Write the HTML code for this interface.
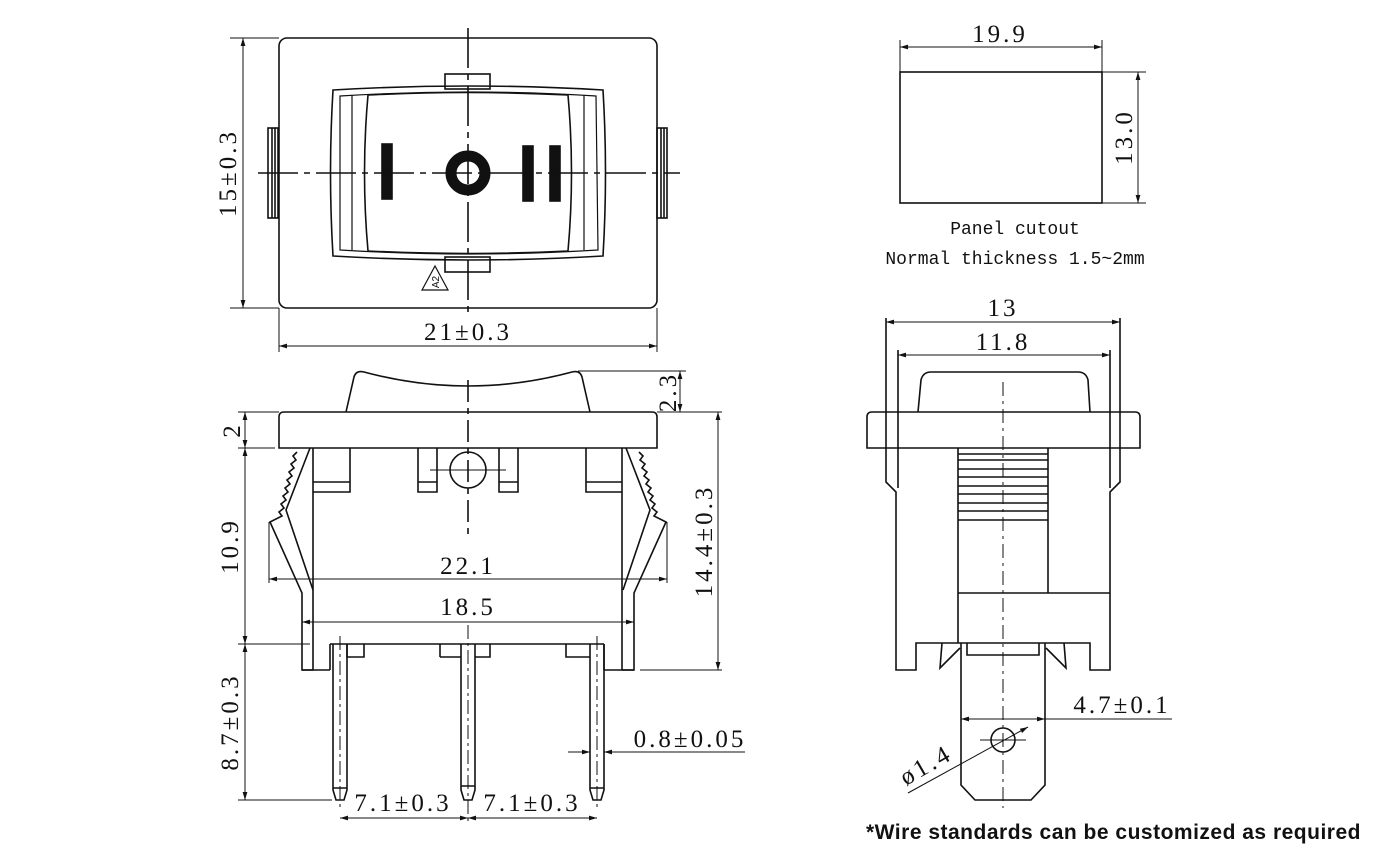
<!DOCTYPE html>
<html><head><meta charset="utf-8"><style>
html,body{margin:0;padding:0;background:#fff;}
svg{display:block}
text{font-family:"Liberation Mono","DejaVu Sans Mono",monospace;fill:#111;}
.d{font-family:"Liberation Serif",serif;font-size:25px;letter-spacing:3px;}
</style></head><body>
<svg width="1390" height="863" viewBox="0 0 1390 863" xmlns="http://www.w3.org/2000/svg">
<defs>
<marker id="a" viewBox="0 0 10 10" refX="10" refY="5" markerWidth="10" markerHeight="8" orient="auto-start-reverse" markerUnits="userSpaceOnUse"><path d="M0,2 L10,5 L0,8" fill="#111"/></marker>
</defs>
<g stroke="#111" stroke-width="1.6" fill="none">
<!-- TOP VIEW -->
<rect x="279" y="38" width="378" height="270" rx="8"/>
<rect x="268" y="128" width="10" height="90"/><line x1="272" y1="128" x2="272" y2="218"/><line x1="275" y1="128" x2="275" y2="218"/>
<rect x="657" y="128" width="10" height="90"/><line x1="661" y1="128" x2="661" y2="218"/><line x1="664" y1="128" x2="664" y2="218"/>
<rect x="445" y="74" width="45" height="15"/>
<rect x="445" y="257" width="45" height="15"/>
<path d="M333,90 Q468,82 603,90 Q608,173 603,256 Q468,264 333,256 Q328,173 333,90Z"/>
<path d="M340,96 Q468,88 596,96 L598,250 Q468,258 340,250Z" stroke-width="1.2"/>
<path d="M352,95 L352,250 M584,95 L584,250" stroke-width="1.2"/>
<path d="M368,95 Q468,90 568,95 Q575,173 568,251 Q468,256 368,251 Q361,173 368,95Z"/>
<rect x="382" y="144" width="10" height="55" fill="#111"/>
<rect x="523" y="146" width="10" height="55" fill="#111"/>
<rect x="550" y="146" width="10" height="55" fill="#111"/>
<circle cx="468" cy="173" r="17" stroke-width="11"/>
<path d="M422,290 L435,266 L448,290Z" stroke-width="1.2"/>
<line x1="468" y1="28" x2="468" y2="318" stroke-dasharray="40,6,6,6"/>
<line x1="258" y1="173" x2="680" y2="173" stroke-dasharray="40,6,6,6"/>
<!-- dims top -->
<line x1="230" y1="38" x2="279" y2="38" stroke-width="1"/>
<line x1="230" y1="308" x2="279" y2="308" stroke-width="1"/>
<line x1="243" y1="38" x2="243" y2="308" stroke-width="1" marker-start="url(#a)" marker-end="url(#a)"/>
<line x1="279" y1="308" x2="279" y2="352" stroke-width="1"/>
<line x1="657" y1="308" x2="657" y2="352" stroke-width="1"/>
<line x1="279" y1="346" x2="657" y2="346" stroke-width="1" marker-start="url(#a)" marker-end="url(#a)"/>
<!-- PANEL CUTOUT -->
<rect x="900" y="72" width="202" height="131"/>
<line x1="900" y1="40" x2="900" y2="72" stroke-width="1"/><line x1="1102" y1="40" x2="1102" y2="72" stroke-width="1"/>
<line x1="900" y1="47" x2="1102" y2="47" stroke-width="1" marker-start="url(#a)" marker-end="url(#a)"/>
<line x1="1102" y1="72" x2="1146" y2="72" stroke-width="1"/><line x1="1102" y1="203" x2="1146" y2="203" stroke-width="1"/>
<line x1="1138" y1="72" x2="1138" y2="203" stroke-width="1" marker-start="url(#a)" marker-end="url(#a)"/>
<!-- SIDE VIEW -->
<path d="M279,448 L279,417 Q279,412 284,412 L652,412 Q657,412 657,417 L657,448 Z"/>
<path d="M346,412 L354,377 Q356,370 364,372 Q468,400 572,372 Q580,370 582,377 L590,412"/>
<line x1="468" y1="380" x2="468" y2="540" stroke-dasharray="22,6,6,6"/>
<path d="M313,448 L313,670 M622,448 L622,670"/>
<path d="M313,492 L350,492 L350,448 M313,482 L350,482"/>
<path d="M586,448 L586,492 L622,492 M586,482 L622,482"/>
<path d="M418,448 L418,492 L437,492 L437,448 M418,482 L437,482"/>
<path d="M499,448 L499,492 L518,492 L518,448 M499,482 L518,482"/>
<circle cx="468" cy="470" r="18"/>
<line x1="430" y1="470" x2="506" y2="470" stroke-width="1"/>
<!-- springs -->
<path d="M297,452 L293,456 L296,460 L291,464 L294,468 L289,472 L292,476 L287,480 L290,484 L285,488 L288,492 L283,496 L286,500 L281,504 L284,508 L279,512 L282,516 L270,522 L302,593 L302,670 L313,670 M310,448 L286,510 L313,590"/>
<path d="M639,452 L643,456 L640,460 L645,464 L642,468 L647,472 L644,476 L649,480 L646,484 L651,488 L648,492 L653,496 L650,500 L655,504 L652,508 L657,512 L654,516 L666,522 L634,593 L634,670 L622,670 M626,448 L650,510 L623,590"/>
<!-- bottom base -->
<path d="M330,644 L604,644 M302,670 L330,670 M604,670 L634,670"/>
<path d="M330,644 L330,670 M604,644 L604,670"/>
<path d="M347,644 L347,657 L364,657 L364,644 M440,657 L461,657 M475,657 L490,657 L490,644 M440,644 L440,657 M566,644 L566,657 L590,657"/>
<!-- pins -->
<path d="M333,644 L333,790 L336,800 L344,800 L347,790 L347,644 M333,788 L347,788"/>
<path d="M461,644 L461,790 L464,800 L472,800 L475,790 L475,644 M461,786 L475,786"/>
<path d="M590,644 L590,790 L593,800 L601,800 L604,790 L604,644 M590,788 L604,788"/>
<g stroke-width="1" stroke-dasharray="14,4,3,4"><line x1="340" y1="636" x2="340" y2="808"/><line x1="468" y1="625" x2="468" y2="822"/><line x1="597" y1="636" x2="597" y2="808"/></g>
<!-- side dims -->
<g stroke-width="1">
<line x1="578" y1="371" x2="686" y2="371"/><line x1="657" y1="412" x2="722" y2="412"/>
<line x1="680" y1="371" x2="680" y2="412" marker-start="url(#a)" marker-end="url(#a)"/>
<line x1="238" y1="412" x2="279" y2="412"/><line x1="238" y1="448" x2="275" y2="448"/>
<line x1="245" y1="412" x2="245" y2="448" marker-start="url(#a)" marker-end="url(#a)"/>
<line x1="245" y1="448" x2="245" y2="644" marker-start="url(#a)" marker-end="url(#a)"/>
<line x1="238" y1="644" x2="310" y2="644"/>
<line x1="245" y1="644" x2="245" y2="800" marker-start="url(#a)" marker-end="url(#a)"/>
<line x1="238" y1="800" x2="332" y2="800"/>
<line x1="718" y1="412" x2="718" y2="670" marker-start="url(#a)" marker-end="url(#a)"/>
<line x1="640" y1="670" x2="722" y2="670"/>
<line x1="269" y1="579" x2="667" y2="579" marker-start="url(#a)" marker-end="url(#a)"/>
<line x1="269" y1="522" x2="269" y2="583"/><line x1="667" y1="522" x2="667" y2="583"/>
<line x1="302" y1="622" x2="634" y2="622" marker-start="url(#a)" marker-end="url(#a)"/>
<line x1="340" y1="818" x2="468" y2="818" marker-start="url(#a)" marker-end="url(#a)"/>
<line x1="468" y1="818" x2="597" y2="818" marker-start="url(#a)" marker-end="url(#a)"/>
<line x1="568" y1="752" x2="590" y2="752" marker-end="url(#a)"/>
<line x1="745" y1="752" x2="604" y2="752" marker-end="url(#a)"/>
</g>
<!-- RIGHT SIDE VIEW -->
<path d="M867,448 L867,417 Q867,412 872,412 L1135,412 Q1140,412 1140,417 L1140,448 Z"/>
<path d="M918,412 L921,380 Q923,372 931,372 L1078,372 Q1086,372 1088,380 L1090,412"/>
<path d="M886,318 L886,482 L896,492 L896,670 L916,670 L916,643 L1090,643 L1090,670 L1110,670 L1110,492 L1120,482 L1120,318" />
<path d="M898,350 L898,488 M1110,350 L1110,488"/>
<path d="M958,448 L958,643 M1048,448 L1048,593 M958,593 L1110,593"/>
<path d="M958,454 L1048,454 M958,460 L1048,460 M958,469 L1048,469 M958,477 L1048,477 M958,486 L1048,486 M958,494 L1048,494 M958,503 L1048,503 M958,511 L1048,511 M958,520 L1048,520"/>
<path d="M961,643 L961,785 L975,800 L1031,800 L1045,785 L1045,643"/>
<path d="M967,643 L967,655 L1039,655 L1039,643"/>
<path d="M942,643 L940,668 L960,648 M1064,643 L1066,668 L1046,648"/>
<circle cx="1003" cy="740" r="12"/>
<line x1="980" y1="740" x2="1026" y2="740" stroke-width="1"/>
<line x1="1003" y1="382" x2="1003" y2="808" stroke-width="1" stroke-dasharray="14,5,3,5"/>
<g stroke-width="1">
<line x1="886" y1="322" x2="1120" y2="322" marker-start="url(#a)" marker-end="url(#a)"/>
<line x1="898" y1="355" x2="1110" y2="355" marker-start="url(#a)" marker-end="url(#a)"/>
<line x1="961" y1="719" x2="1045" y2="719" marker-start="url(#a)" marker-end="url(#a)"/>
<line x1="1045" y1="719" x2="1172" y2="719"/>
<line x1="908" y1="793" x2="1028" y2="727" marker-end="url(#a)"/>
</g>
</g>
<!-- TEXT -->
<text x="435" y="286" text-anchor="middle" font-size="10" transform="rotate(-90 435 282)" style="font-family:'Liberation Sans',sans-serif">A2</text>
<text x="236" y="173" text-anchor="middle" transform="rotate(-90 236 173)" class="d">15±0.3</text>
<text x="468" y="340" text-anchor="middle" class="d">21±0.3</text>
<text x="1000" y="42" text-anchor="middle" class="d">19.9</text>
<text x="1132" y="137" text-anchor="middle" transform="rotate(-90 1132 137)" class="d">13.0</text>
<text x="676" y="392" text-anchor="middle" transform="rotate(-90 676 392)" class="d">2.3</text>
<text x="240" y="430" text-anchor="middle" transform="rotate(-90 240 430)" class="d">2</text>
<text x="238" y="546" text-anchor="middle" transform="rotate(-90 238 546)" class="d">10.9</text>
<text x="712" y="541" text-anchor="middle" transform="rotate(-90 712 541)" class="d">14.4±0.3</text>
<text x="238" y="722" text-anchor="middle" transform="rotate(-90 238 722)" class="d">8.7±0.3</text>
<text x="468" y="574" text-anchor="middle" class="d">22.1</text>
<text x="468" y="615" text-anchor="middle" class="d">18.5</text>
<text x="403" y="811" text-anchor="middle" class="d">7.1±0.3</text>
<text x="532" y="811" text-anchor="middle" class="d">7.1±0.3</text>
<text x="690" y="747" text-anchor="middle" class="d">0.8±0.05</text>
<text x="1003" y="316" text-anchor="middle" class="d">13</text>
<text x="1003" y="350" text-anchor="middle" class="d">11.8</text>
<text x="1122" y="713" text-anchor="middle" class="d">4.7±0.1</text>
<text x="930" y="772" text-anchor="middle" transform="rotate(-30 930 772)" class="d">ø1.4</text>
<text x="1015" y="234" text-anchor="middle" font-size="18">Panel cutout</text>
<text x="1015" y="264" text-anchor="middle" font-size="18">Normal thickness 1.5~2mm</text>
<text x="866" y="839" font-weight="bold" font-size="21" letter-spacing="0.5" style="font-family:'Liberation Sans',sans-serif">*Wire standards can be customized as required</text>
</svg>
</body></html>
